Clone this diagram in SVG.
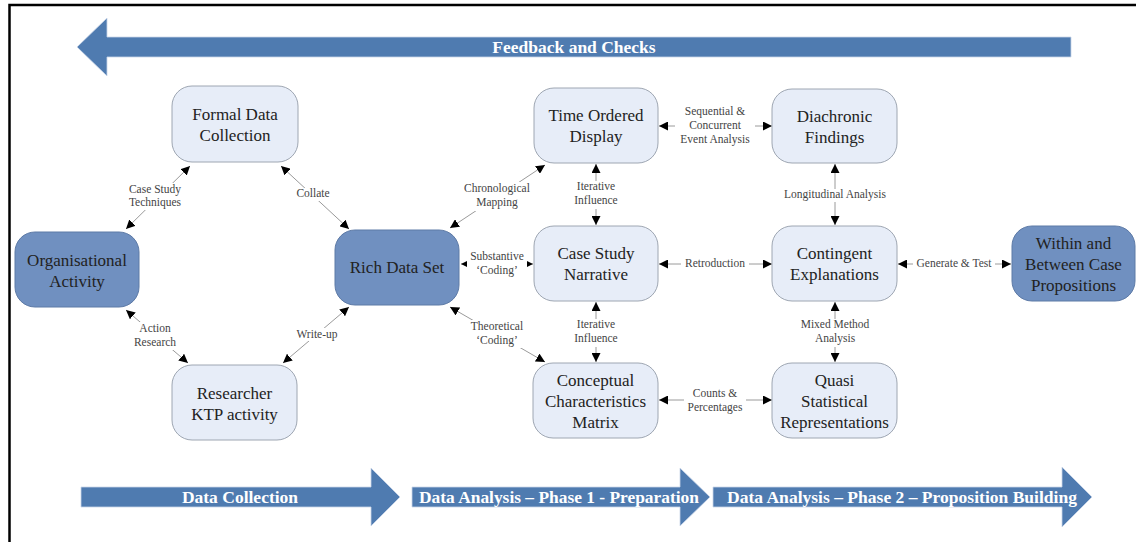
<svg xmlns="http://www.w3.org/2000/svg" width="1136" height="542" viewBox="0 0 1136 542">
  <style>
    .frame { stroke: #000; stroke-width: 2.5; fill: none; }
    .band { fill: #4f7bb0; stroke: #c9d6e8; stroke-width: 0.8; }
    .bandtxt { font-family: "Liberation Serif", "Times New Roman", serif; font-weight: bold; font-size: 17.5px; fill: #ffffff; text-anchor: middle; dominant-baseline: central; }
    .light rect { fill: #e7edf8; stroke: #9ea6b2; stroke-width: 1; }
    .dark rect { fill: #7090c0; stroke: #5d7aa6; stroke-width: 1; }
    .node text { font-family: "Liberation Serif", "Times New Roman", serif; font-size: 17px; fill: #222; text-anchor: middle; }
    .edge { stroke: #9a9a9a; stroke-width: 1; fill: none; marker-start: url(#ah); marker-end: url(#ah); }
    .lbl { font-family: "Liberation Serif", "Times New Roman", serif; font-size: 11.5px; fill: #444; text-anchor: middle; }
    .lblbg { fill: #ffffff; }
  </style>
  <defs>
    <marker id="ah" viewBox="0 0 10 10" refX="10" refY="5" markerWidth="9" markerHeight="9" markerUnits="userSpaceOnUse" orient="auto-start-reverse">
      <path d="M0,0 L10,5 L0,10 Z" fill="#000"/>
    </marker>
  </defs>

  <rect width="1136" height="542" fill="#ffffff"/>
  <!-- frame: top and left rules -->
  <path class="frame" d="M9.5,542 L9.5,5 L1136,5"/>

  <!-- feedback band across the top -->
  <g id="feedback">
    <path class="band" d="M1071,37 L107,37 L107,18 L77,47 L107,76 L107,57 L1071,57 Z"/>
    <text class="bandtxt" x="574" y="47">Feedback and Checks</text>
  </g>

  <!-- phase bands along the bottom -->
  <g id="phase-collection">
    <path class="band" d="M81,487 L371,487 L371,468 L400,497 L371,526 L371,507 L81,507 Z"/>
    <text class="bandtxt" x="240" y="497">Data Collection</text>
  </g>
  <g id="phase-preparation">
    <path class="band" d="M412,487 L680,487 L680,468 L710,497 L680,526 L680,507 L412,507 Z"/>
    <text class="bandtxt" x="559" y="497" textLength="280" lengthAdjust="spacingAndGlyphs">Data Analysis – Phase 1 - Preparation</text>
  </g>
  <g id="phase-building">
    <path class="band" d="M713,487 L1062,487 L1062,467 L1092,497 L1062,527 L1062,507 L713,507 Z"/>
    <text class="bandtxt" x="902" y="497" textLength="350" lengthAdjust="spacingAndGlyphs">Data Analysis – Phase 2 – Proposition Building</text>
  </g>

  <!-- connectors -->
  <g id="connectors">
    <line class="edge" x1="126" y1="229" x2="190" y2="166"/>
    <line class="edge" x1="281" y1="166" x2="349" y2="229"/>
    <line class="edge" x1="126" y1="310" x2="188" y2="363"/>
    <line class="edge" x1="283" y1="363" x2="349" y2="307"/>
    <line class="edge" x1="450" y1="228" x2="545" y2="165"/>
    <line class="edge" x1="461" y1="264" x2="533" y2="264"/>
    <line class="edge" x1="450" y1="307" x2="545" y2="362"/>
    <line class="edge" x1="596" y1="164" x2="596" y2="225"/>
    <line class="edge" x1="596" y1="302" x2="596" y2="362"/>
    <line class="edge" x1="659" y1="126" x2="772" y2="126"/>
    <line class="edge" x1="835" y1="164" x2="835" y2="225"/>
    <line class="edge" x1="659" y1="264" x2="772" y2="264"/>
    <line class="edge" x1="898" y1="264" x2="1011" y2="264"/>
    <line class="edge" x1="835" y1="302" x2="835" y2="362"/>
    <line class="edge" x1="659" y1="400" x2="772" y2="400"/>

    <!-- connector labels -->
    <rect class="lblbg" x="122" y="183" width="66" height="27"/>
    <text class="lbl" x="155" y="193">Case Study</text>
    <text class="lbl" x="155" y="206">Techniques</text>

    <rect class="lblbg" x="295" y="188" width="36" height="13"/>
    <text class="lbl" x="313" y="197">Collate</text>

    <rect class="lblbg" x="130" y="322" width="50" height="28"/>
    <text class="lbl" x="155" y="332">Action</text>
    <text class="lbl" x="155" y="346">Research</text>

    <rect class="lblbg" x="294" y="328" width="46" height="13"/>
    <text class="lbl" x="317" y="338">Write-up</text>

    <rect class="lblbg" x="460" y="182" width="74" height="29"/>
    <text class="lbl" x="497" y="192">Chronological</text>
    <text class="lbl" x="497" y="206">Mapping</text>

    <rect class="lblbg" x="467" y="251" width="60" height="28"/>
    <text class="lbl" x="497" y="260">Substantive</text>
    <text class="lbl" x="497" y="274">‘Coding’</text>

    <rect class="lblbg" x="467" y="320" width="60" height="28"/>
    <text class="lbl" x="497" y="330">Theoretical</text>
    <text class="lbl" x="497" y="344">‘Coding’</text>

    <rect class="lblbg" x="571" y="181" width="50" height="28"/>
    <text class="lbl" x="596" y="190">Iterative</text>
    <text class="lbl" x="596" y="204">Influence</text>

    <rect class="lblbg" x="571" y="319" width="50" height="28"/>
    <text class="lbl" x="596" y="328">Iterative</text>
    <text class="lbl" x="596" y="342">Influence</text>

    <rect class="lblbg" x="675" y="105" width="80" height="42"/>
    <text class="lbl" x="715" y="115">Sequential &amp;</text>
    <text class="lbl" x="715" y="129">Concurrent</text>
    <text class="lbl" x="715" y="143">Event Analysis</text>

    <rect class="lblbg" x="781" y="189" width="108" height="13"/>
    <text class="lbl" x="835" y="198">Longitudinal Analysis</text>

    <rect class="lblbg" x="681" y="257" width="68" height="13"/>
    <text class="lbl" x="715" y="267">Retroduction</text>

    <rect class="lblbg" x="913" y="257" width="82" height="13"/>
    <text class="lbl" x="954" y="267">Generate &amp; Test</text>

    <rect class="lblbg" x="798" y="319" width="74" height="28"/>
    <text class="lbl" x="835" y="328">Mixed Method</text>
    <text class="lbl" x="835" y="342">Analysis</text>

    <rect class="lblbg" x="684" y="388" width="62" height="28"/>
    <text class="lbl" x="715" y="397">Counts &amp;</text>
    <text class="lbl" x="715" y="411">Percentages</text>
  </g>

  <!-- nodes -->
  <g id="formal-data-collection" class="node light">
    <rect x="172" y="86" width="126" height="76" rx="20"/>
    <text x="235" y="120">Formal Data</text>
    <text x="235" y="141">Collection</text>
  </g>
  <g id="organisational-activity" class="node dark">
    <rect x="15" y="232" width="124" height="75" rx="20"/>
    <text x="77" y="266">Organisational</text>
    <text x="77" y="287">Activity</text>
  </g>
  <g id="researcher-ktp-activity" class="node light">
    <rect x="172" y="365" width="125" height="75" rx="20"/>
    <text x="234.5" y="399">Researcher</text>
    <text x="234.5" y="420">KTP activity</text>
  </g>
  <g id="rich-data-set" class="node dark">
    <rect x="335" y="230" width="124" height="75" rx="20"/>
    <text x="397" y="273">Rich Data Set</text>
  </g>
  <g id="time-ordered-display" class="node light">
    <rect x="534" y="88" width="124" height="75" rx="20"/>
    <text x="596" y="121">Time Ordered</text>
    <text x="596" y="142">Display</text>
  </g>
  <g id="case-study-narrative" class="node light">
    <rect x="534" y="226" width="124" height="75" rx="20"/>
    <text x="596" y="259">Case Study</text>
    <text x="596" y="280">Narrative</text>
  </g>
  <g id="conceptual-characteristics-matrix" class="node light">
    <rect x="533" y="363" width="125" height="75" rx="20"/>
    <text x="595.5" y="386">Conceptual</text>
    <text x="595.5" y="407">Characteristics</text>
    <text x="595.5" y="428">Matrix</text>
  </g>
  <g id="diachronic-findings" class="node light">
    <rect x="772" y="89" width="125" height="74" rx="20"/>
    <text x="834.5" y="122">Diachronic</text>
    <text x="834.5" y="143">Findings</text>
  </g>
  <g id="contingent-explanations" class="node light">
    <rect x="772" y="226" width="125" height="75" rx="20"/>
    <text x="834.5" y="259">Contingent</text>
    <text x="834.5" y="280">Explanations</text>
  </g>
  <g id="quasi-statistical-representations" class="node light">
    <rect x="772" y="363" width="125" height="75" rx="20"/>
    <text x="834.5" y="386">Quasi</text>
    <text x="834.5" y="407">Statistical</text>
    <text x="834.5" y="428">Representations</text>
  </g>
  <g id="within-and-between-case-propositions" class="node dark">
    <rect x="1012" y="226" width="123" height="75" rx="20"/>
    <text x="1073.5" y="249">Within and</text>
    <text x="1073.5" y="270">Between Case</text>
    <text x="1073.5" y="291">Propositions</text>
  </g>
</svg>
